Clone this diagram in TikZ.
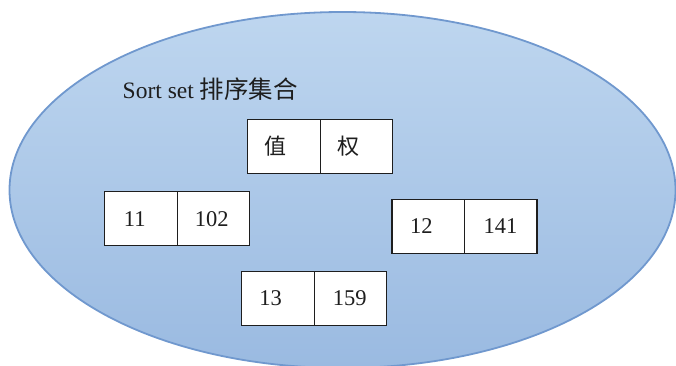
\documentclass[tikz,border=0pt]{standalone}
\usepackage{fontspec}
\setmainfont{Liberation Serif}
\newfontfamily\cjk{Noto Sans CJK SC}
\definecolor{elltop}{RGB}{190,214,239}
\definecolor{ellbot}{RGB}{154,186,225}
\definecolor{elledge}{RGB}{112,152,206}
\definecolor{ink}{RGB}{30,30,30}
\tikzset{
  cell/.style={draw=ink, line width=1.3pt, fill=white, rectangle, outer sep=0pt,
    minimum width=72.5pt, minimum height=54pt, inner sep=0pt, anchor=north west},
  celltext/.style={anchor=west, inner sep=0pt, text=ink,
    font=\fontsize{22.5}{26}\selectfont},
}
\begin{document}
\begin{tikzpicture}[x=1pt,y=-1pt]
\useasboundingbox (0,0) rectangle (676,365);
\begin{scope}
\clip (0,0) rectangle (676,365);
\path[draw=elledge, line width=1.8pt, top color=elltop, bottom color=ellbot]
  (342.5,190) ellipse [x radius=333, y radius=178];
\end{scope}
\node[anchor=base west, inner sep=0pt, text=ink, font=\fontsize{23.5}{27}\selectfont]
  (title) at (122.5,98.5) {Sort set {\cjk\fontsize{24.5}{27}\selectfont 排序集合}};
% header box
\node[cell] (h1) at (247.7,119.5) {};
\node[cell] (h2) at (h1.north east) {};
\node[celltext, font=\cjk\fontsize{22}{26}\selectfont] (h1t) at ([xshift=17pt]h1.west) {值};
\node[celltext, font=\cjk\fontsize{22}{26}\selectfont] (h2t) at ([xshift=17pt]h2.west) {权};
% 11 / 102
\node[cell] (a1) at (104.7,191.7) {};
\node[cell] (a2) at (a1.north east) {};
\node[celltext] (a1t) at ([xshift=19pt]a1.west) {11};
\node[celltext] (a2t) at ([xshift=17.5pt]a2.west) {102};
% 12 / 141
\node[cell] (b1) at (392,199.5) {};
\node[cell] (b2) at (b1.north east) {};
\node[celltext] (b1t) at ([xshift=18pt]b1.west) {12};
\node[celltext] (b2t) at ([xshift=19pt]b2.west) {141};
% 13 / 159
\node[cell] (c1) at (241.7,271.3) {};
\node[cell] (c2) at (c1.north east) {};
\node[celltext] (c1t) at ([xshift=17.5pt]c1.west) {13};
\node[celltext] (c2t) at ([xshift=18.5pt]c2.west) {159};
\end{tikzpicture}
\end{document}
